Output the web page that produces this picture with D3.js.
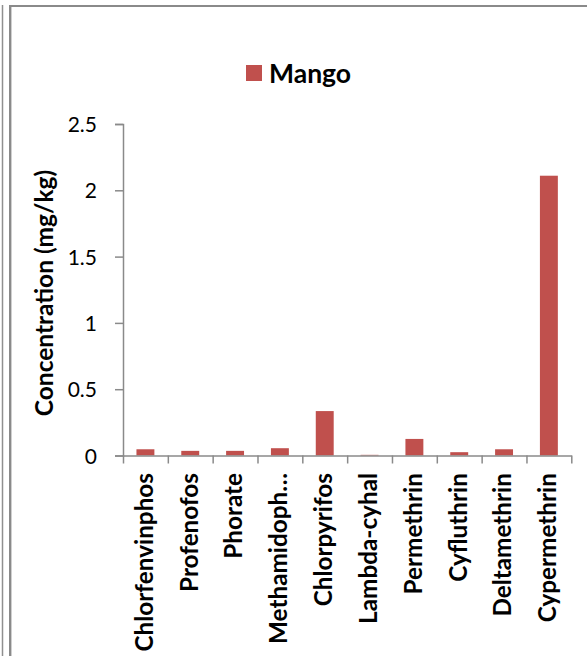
<!DOCTYPE html>
<html>
<head>
<meta charset="utf-8">
<script src="https://cdn.jsdelivr.net/npm/d3@7"></script>
<style>
  html, body { margin: 0; padding: 0; background: #fff; }
  svg { display: block; }
  text { font-family: Lato, "Liberation Sans", sans-serif; fill: #000; }
</style>
</head>
<body>
<svg id="chart" width="587" height="656"></svg>
<script>
// Pesticide residue concentrations measured in mango samples (mg/kg)
const categories = ["Chlorfenvinphos", "Profenofos", "Phorate", "Methamidoph\u2026", "Chlorpyrifos",
                    "Lambda-cyhal", "Permethrin", "Cyfluthrin", "Deltamethrin", "Cypermethrin"];
const mango = [0.047, 0.035, 0.035, 0.055, 0.335, 0.005, 0.125, 0.025, 0.047, 2.11];
const yTicks = [0, 0.5, 1, 1.5, 2, 2.5];
const seriesName = "Mango";
const yTitle = "Concentration (mg/kg)";

const svg = d3.select("#chart");
const axisColor = "#8a8a8a";
const barColor = "#C0504D";

// page frame lines
svg.append("line").attr("x1", 2.5).attr("x2", 2.5).attr("y1", 5).attr("y2", 656)
  .attr("stroke", "#8f8f8f").attr("stroke-width", 1.5);
svg.append("line").attr("x1", 9).attr("x2", 587).attr("y1", 6).attr("y2", 6)
  .attr("stroke", "#8a8a8a").attr("stroke-width", 2);
svg.append("line").attr("x1", 10).attr("x2", 10).attr("y1", 5).attr("y2", 656)
  .attr("stroke", "#8a8a8a").attr("stroke-width", 2);
svg.append("line").attr("x1", 11.5).attr("x2", 11.5).attr("y1", 7).attr("y2", 656)
  .attr("stroke", "#cfcfcf").attr("stroke-width", 1);

const plot = { left: 123, right: 571.3, top: 124, bottom: 455.5 };

const x = d3.scaleBand()
  .domain(categories)
  .range([plot.left, plot.right])
  .paddingInner(0.6)
  .paddingOuter(0.3);

// category boundaries for the tick marks
const xEdges = d3.scaleLinear().domain([0, categories.length]).range([plot.left, plot.right]);

const y = d3.scaleLinear().domain([0, 2.5]).range([plot.bottom, plot.top]);

// bars
svg.append("g").selectAll("rect")
  .data(categories.map((c, i) => ({ c, v: mango[i] })))
  .join("rect")
  .attr("x", d => x(d.c))
  .attr("width", x.bandwidth())
  .attr("y", d => y(d.v))
  .attr("height", d => y(0) - y(d.v))
  .attr("fill", barColor);

// y axis
const gy = svg.append("g")
  .attr("transform", `translate(${plot.left},0)`)
  .call(d3.axisLeft(y).tickValues(yTicks).tickFormat(d => String(d)).tickSize(8).tickPadding(18));
gy.select(".domain").attr("stroke", axisColor).attr("stroke-width", 1.5);
gy.selectAll(".tick line").attr("stroke", axisColor).attr("stroke-width", 1.5);
gy.selectAll(".tick text")
  .attr("font-family", "Lato, 'Liberation Sans', sans-serif")
  .attr("font-size", 21).attr("fill", "#000").attr("dy", "0.36em");

// x axis with ticks on category boundaries
const gx = svg.append("g")
  .attr("transform", `translate(0,${plot.bottom})`)
  .call(d3.axisBottom(xEdges).tickValues(d3.range(categories.length + 1)).tickFormat("").tickSize(8).tickSizeOuter(0));
gx.select(".domain").attr("stroke", axisColor).attr("stroke-width", 1.5);
gx.selectAll(".tick line").attr("stroke", axisColor).attr("stroke-width", 1.5);

// rotated category labels
svg.append("g").selectAll("text")
  .data(categories)
  .join("text")
  .attr("transform", d => `translate(${x(d) + x.bandwidth() / 2},473) rotate(-90)`)
  .attr("text-anchor", "end")
  .attr("dy", "0.3em")
  .attr("font-size", 24.3)
  .attr("font-weight", "bold")
  .text(d => d);

// y axis title
svg.append("text")
  .attr("transform", "translate(44,293) rotate(-90)")
  .attr("text-anchor", "middle")
  .attr("dy", "0.35em")
  .attr("font-size", 24.5)
  .attr("font-weight", "bold")
  .text(yTitle);

// legend
const legend = svg.append("g");
legend.append("rect").attr("x", 246).attr("y", 65).attr("width", 16).attr("height", 16).attr("fill", barColor);
legend.append("text").attr("x", 269).attr("y", 82.5)
  .attr("font-size", 26.5).attr("font-weight", "bold").text(seriesName);
</script>
</body>
</html>
